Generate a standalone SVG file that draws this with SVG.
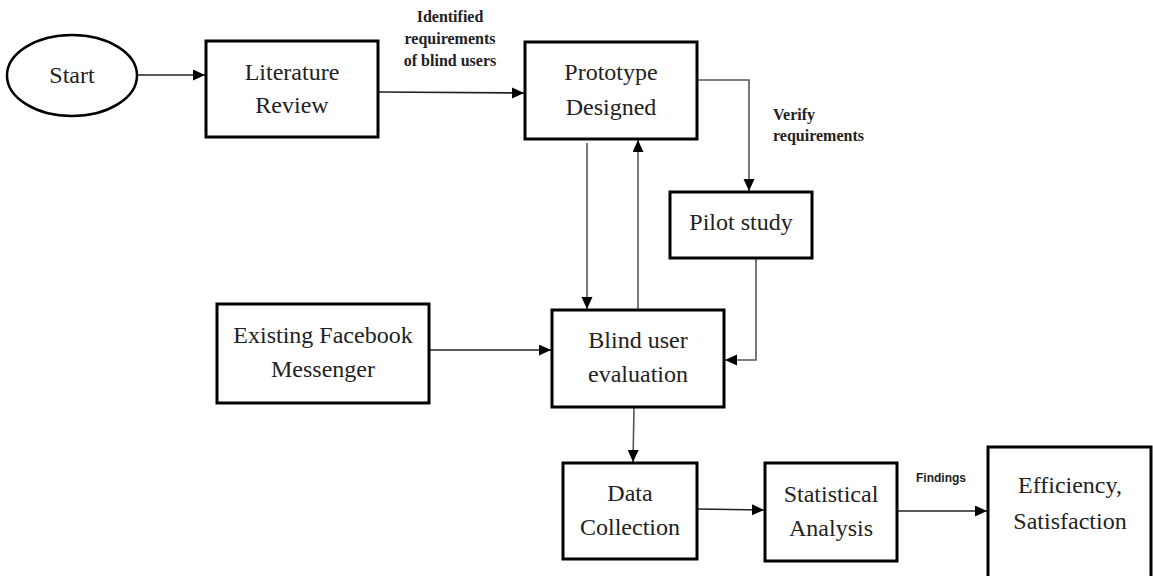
<svg xmlns="http://www.w3.org/2000/svg" width="1153" height="576" viewBox="0 0 1153 576">
<defs>
<style>
.box{fill:#fff;stroke:#000;stroke-width:3}
.t{font-family:"Liberation Serif","Times New Roman",serif;font-size:24px;fill:#222;text-anchor:middle}
.lb{font-family:"Liberation Serif","Times New Roman",serif;font-size:16px;font-weight:bold;fill:#222}
.ls{font-family:"Liberation Sans",Arial,sans-serif;font-size:12px;font-weight:bold;fill:#222;text-anchor:middle}
.c{fill:none;stroke:#222;stroke-width:1.6;marker-end:url(#ah)}
.g{fill:none;stroke:#555;stroke-width:1.6;marker-end:url(#ah)}
</style>
<marker id="ah" markerUnits="userSpaceOnUse" markerWidth="14" markerHeight="12" refX="12" refY="5.5" orient="auto">
<path d="M0,0 L12,5.5 L0,11 z" fill="#000"/>
</marker>
</defs>
<rect width="1153" height="576" fill="#fff"/>
<g id="connectors">
<line class="c" x1="138" y1="75" x2="205" y2="75"/>
<line class="c" x1="378" y1="92" x2="524" y2="93"/>
<polyline class="g" points="697,80 749,80 749,191"/>
<line class="g" x1="587" y1="143" x2="587" y2="309"/>
<line class="g" x1="638" y1="310" x2="638" y2="140"/>
<polyline class="g" points="756,258 756,360 725,360"/>
<line class="c" x1="429" y1="350" x2="551" y2="350"/>
<line class="g" x1="634" y1="408" x2="633" y2="462"/>
<line class="c" x1="697" y1="509" x2="764" y2="510"/>
<line class="c" x1="897" y1="511" x2="987" y2="511"/>
</g>
<g id="labels">
<text class="lb" x="450" y="22" text-anchor="middle">Identified</text>
<text class="lb" x="450" y="44" text-anchor="middle">requirements</text>
<text class="lb" x="450" y="66" text-anchor="middle">of blind users</text>
<text class="lb" x="773" y="120">Verify</text>
<text class="lb" x="773" y="141">requirements</text>
<text class="ls" x="941" y="482">Findings</text>
</g>
<g id="start">
<ellipse cx="72" cy="75.5" rx="65" ry="40.5" fill="#fff" stroke="#000" stroke-width="2.5"/>
<text class="t" x="72" y="83">Start</text>
</g>
<g id="literature-review">
<rect class="box" x="206" y="41" width="172" height="96"/>
<text class="t" x="292" y="80">Literature</text>
<text class="t" x="292" y="113">Review</text>
</g>
<g id="prototype-designed">
<rect class="box" x="525" y="42" width="172" height="97"/>
<text class="t" x="611" y="80">Prototype</text>
<text class="t" x="611" y="115">Designed</text>
</g>
<g id="pilot-study">
<rect class="box" x="670" y="192" width="142" height="66"/>
<text class="t" x="741" y="230">Pilot study</text>
</g>
<g id="existing-facebook-messenger">
<rect class="box" x="217" y="304" width="212" height="99"/>
<text class="t" x="323" y="343">Existing Facebook</text>
<text class="t" x="323" y="377">Messenger</text>
</g>
<g id="blind-user-evaluation">
<rect class="box" x="552" y="310" width="172" height="97"/>
<text class="t" x="638" y="348">Blind user</text>
<text class="t" x="638" y="382">evaluation</text>
</g>
<g id="data-collection">
<rect class="box" x="563" y="463" width="134" height="96"/>
<text class="t" x="630" y="501">Data</text>
<text class="t" x="630" y="535">Collection</text>
</g>
<g id="statistical-analysis">
<rect class="box" x="765" y="463" width="132" height="98"/>
<text class="t" x="831" y="502">Statistical</text>
<text class="t" x="831" y="536">Analysis</text>
</g>
<g id="efficiency-satisfaction">
<rect class="box" x="988" y="447" width="163" height="160"/>
<text class="t" x="1070" y="493">Efficiency,</text>
<text class="t" x="1070" y="529">Satisfaction</text>
</g>
</svg>
